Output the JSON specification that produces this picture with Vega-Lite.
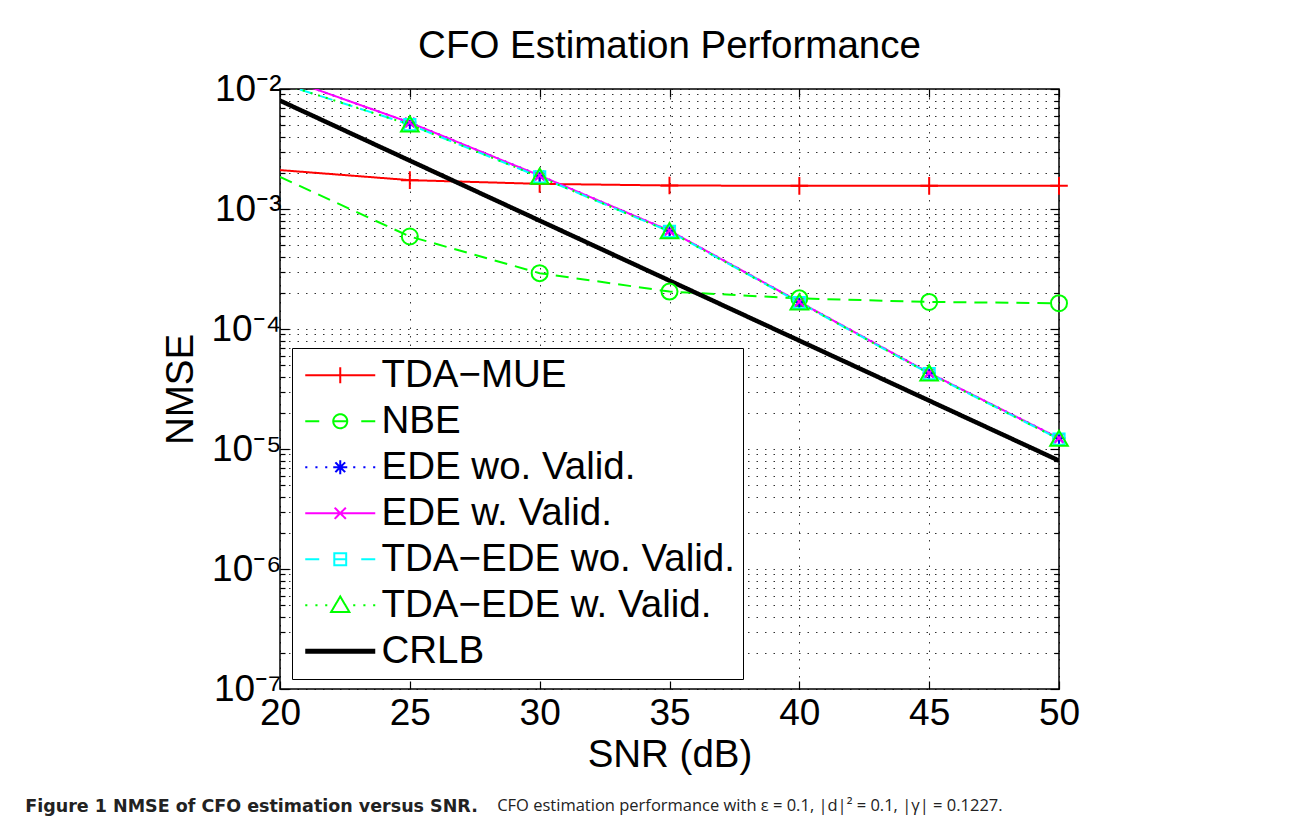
{
  "$schema": "https://vega.github.io/schema/vega-lite/v6.json",
  "background": "white",
  "padding": {"left": 25, "top": 25, "right": 0, "bottom": 0},
  "config": {
    "font": "Liberation Sans",
    "view": {"stroke": "black", "strokeWidth": 1.5},
    "concat": {"spacing": 0},
    "axis": {"labelFont": "Liberation Sans", "titleFont": "Liberation Sans", "labelColor": "black", "titleColor": "black", "tickColor": "black", "domainColor": "black"}
  },
  "title": {
    "text": "Figure 1 NMSE of CFO estimation versus SNR.",
    "orient": "bottom", "anchor": "start", "font": "DejaVu Sans", "fontSize": 17.5, "fontWeight": "bold", "color": "#222",
    "dx": -136, "offset": -17
  },
  "vconcat": [
    {
      "title": {
        "text": "CFO estimation performance with ε = 0.1, |d|² = 0.1, |γ| = 0.1227.",
        "orient": "bottom", "anchor": "start", "font": "Open Sans", "fontSize": 16.5, "fontWeight": "normal", "color": "#222",
        "dx": 336, "offset": 24
      },
      "vconcat": [
        {
          "width": 779,
          "height": 600,
          "title": {"text": "CFO Estimation Performance", "font": "Liberation Sans", "fontSize": 38.5, "fontWeight": "normal", "color": "black", "anchor": "middle", "frame": "group", "offset": 4},
          "data": {"values": [
            {"s": "TDA−MUE", "snr": 20, "nmse": 2.11e-3},
            {"s": "TDA−MUE", "snr": 25, "nmse": 1.74e-3},
            {"s": "TDA−MUE", "snr": 30, "nmse": 1.62e-3},
            {"s": "TDA−MUE", "snr": 35, "nmse": 1.57e-3},
            {"s": "TDA−MUE", "snr": 40, "nmse": 1.56e-3},
            {"s": "TDA−MUE", "snr": 45, "nmse": 1.56e-3},
            {"s": "TDA−MUE", "snr": 50, "nmse": 1.56e-3},
            {"s": "NBE", "snr": 20, "nmse": 1.85e-3},
            {"s": "NBE", "snr": 25, "nmse": 5.9e-4},
            {"s": "NBE", "snr": 30, "nmse": 2.92e-4},
            {"s": "NBE", "snr": 35, "nmse": 2.05e-4},
            {"s": "NBE", "snr": 40, "nmse": 1.8e-4},
            {"s": "NBE", "snr": 45, "nmse": 1.68e-4},
            {"s": "NBE", "snr": 50, "nmse": 1.64e-4},
            {"s": "EDE wo. Valid.", "snr": 20, "nmse": 1.27e-2},
            {"s": "EDE wo. Valid.", "snr": 25, "nmse": 5.25e-3},
            {"s": "EDE wo. Valid.", "snr": 30, "nmse": 1.9e-3},
            {"s": "EDE wo. Valid.", "snr": 35, "nmse": 6.6e-4},
            {"s": "EDE wo. Valid.", "snr": 40, "nmse": 1.68e-4},
            {"s": "EDE wo. Valid.", "snr": 45, "nmse": 4.3e-5},
            {"s": "EDE wo. Valid.", "snr": 50, "nmse": 1.23e-5},
            {"s": "EDE w. Valid.", "snr": 20, "nmse": 1.27e-2},
            {"s": "EDE w. Valid.", "snr": 25, "nmse": 5.25e-3},
            {"s": "EDE w. Valid.", "snr": 30, "nmse": 1.9e-3},
            {"s": "EDE w. Valid.", "snr": 35, "nmse": 6.6e-4},
            {"s": "EDE w. Valid.", "snr": 40, "nmse": 1.68e-4},
            {"s": "EDE w. Valid.", "snr": 45, "nmse": 4.3e-5},
            {"s": "EDE w. Valid.", "snr": 50, "nmse": 1.23e-5},
            {"s": "TDA−EDE wo. Valid.", "snr": 20, "nmse": 1.12e-2},
            {"s": "TDA−EDE wo. Valid.", "snr": 25, "nmse": 5.05e-3},
            {"s": "TDA−EDE wo. Valid.", "snr": 30, "nmse": 1.85e-3},
            {"s": "TDA−EDE wo. Valid.", "snr": 35, "nmse": 6.5e-4},
            {"s": "TDA−EDE wo. Valid.", "snr": 40, "nmse": 1.66e-4},
            {"s": "TDA−EDE wo. Valid.", "snr": 45, "nmse": 4.25e-5},
            {"s": "TDA−EDE wo. Valid.", "snr": 50, "nmse": 1.21e-5},
            {"s": "TDA−EDE w. Valid.", "snr": 20, "nmse": 1.12e-2},
            {"s": "TDA−EDE w. Valid.", "snr": 25, "nmse": 5.05e-3},
            {"s": "TDA−EDE w. Valid.", "snr": 30, "nmse": 1.85e-3},
            {"s": "TDA−EDE w. Valid.", "snr": 35, "nmse": 6.5e-4},
            {"s": "TDA−EDE w. Valid.", "snr": 40, "nmse": 1.66e-4},
            {"s": "TDA−EDE w. Valid.", "snr": 45, "nmse": 4.25e-5},
            {"s": "TDA−EDE w. Valid.", "snr": 50, "nmse": 1.21e-5},
            {"s": "CRLB", "snr": 20, "nmse": 8.0e-3},
            {"s": "CRLB", "snr": 25, "nmse": 2.53e-3},
            {"s": "CRLB", "snr": 30, "nmse": 8.0e-4},
            {"s": "CRLB", "snr": 35, "nmse": 2.53e-4},
            {"s": "CRLB", "snr": 40, "nmse": 8.0e-5},
            {"s": "CRLB", "snr": 45, "nmse": 2.53e-5},
            {"s": "CRLB", "snr": 50, "nmse": 8.0e-6}
          ]},
          "resolve": {"axis": {"x": "independent", "y": "independent"}},
          "layer": [
            {
              "mark": {"type": "line", "clip": true, "strokeCap": "butt"},
              "encoding": {
                "x": {
                  "field": "snr", "type": "quantitative",
                  "scale": {"domain": [20, 50], "nice": false, "zero": false},
                  "axis": {
                    "orient": "bottom", "values": [20, 25, 30, 35, 40, 45, 50],
                    "grid": true, "gridDash": [1.5, 7], "gridColor": "#000", "gridOpacity": 0.8, "gridWidth": 1,
                    "tickSize": -8, "tickWidth": 1.2, "domain": false,
                    "labelFontSize": 37, "labelPadding": 14, "labelFlush": false, "labelOverlap": false,
                    "title": "SNR (dB)", "titleFontSize": 38.5, "titleFontWeight": "normal", "titlePadding": 5
                  }
                },
                "y": {
                  "field": "nmse", "type": "quantitative",
                  "scale": {"type": "log", "domain": [1e-7, 1e-2], "nice": false},
                  "axis": {
                    "orient": "left",
                    "values": [1e-7, 2e-7, 3e-7, 4e-7, 5e-7, 6e-7, 7e-7, 8e-7, 9e-7, 1e-6, 2e-6, 3e-6, 4e-6, 5e-6, 6e-6, 7e-6, 8e-6, 9e-6, 1e-5, 2e-5, 3e-5, 4e-5, 5e-5, 6e-5, 7e-5, 8e-5, 9e-5, 1e-4, 2e-4, 3e-4, 4e-4, 5e-4, 6e-4, 7e-4, 8e-4, 9e-4, 1e-3, 2e-3, 3e-3, 4e-3, 5e-3, 6e-3, 7e-3, 8e-3, 9e-3, 1e-2],
                    "labelExpr": "abs(log(datum.value)/LN10 - round(log(datum.value)/LN10)) < 0.001 ? '10' + ['⁻⁷','⁻⁶','⁻⁵','⁻⁴','⁻³','⁻²'][round(log(datum.value)/LN10) + 7] : ''",
                    "grid": true, "gridDash": [1.5, 7], "gridColor": "#000", "gridOpacity": 0.8, "gridWidth": 1,
                    "tickSize": {"condition": {"test": "abs(log(datum.value)/LN10 - round(log(datum.value)/LN10)) < 0.001", "value": -9}, "value": -5},
                    "tickWidth": 1.2, "domain": false,
                    "labelFontSize": 37, "labelPadding": 8, "labelOverlap": false, "labelFlush": false,
                    "title": "NMSE", "titleFontSize": 38.5, "titleFontWeight": "normal", "titlePadding": 10
                  }
                },
                "color": {
                  "field": "s", "type": "nominal",
                  "scale": {"domain": ["TDA−MUE", "NBE", "EDE wo. Valid.", "EDE w. Valid.", "TDA−EDE wo. Valid.", "TDA−EDE w. Valid.", "CRLB"], "range": ["#ff0000", "#00ff00", "#0000ff", "#ff00ff", "#00ffff", "#00ff00", "#000000"]},
                  "legend": {
                    "orient": "none", "legendX": 12, "legendY": 259, "title": null,
                    "labelFont": "Liberation Sans", "labelFontSize": 38.5, "labelColor": "black", "labelLimit": 0, "labelOffset": 43,
                    "symbolSize": 4900, "symbolStrokeWidth": 2, "symbolType": "stroke",
                    "rowPadding": 7, "padding": 8,
                    "strokeColor": "black", "fillColor": "white", "cornerRadius": 0,
                    "encode": {
                      "symbols": {
                        "update": {
                          "shape": {"signal": "['M-0.4,0H1.6M0.6,-0.23V0.23', 'M-0.4,0H0M1.2,0H1.6M0.4,0A0.2,0.2 0 1,1 0.8,0A0.2,0.2 0 1,1 0.4,0M0.4,0H0.8', 'M-0.4,0h0.06M-0.11,0h0.06M0.17,0h0.06M0.97,0h0.06M1.26,0h0.06M1.54,0h0.06M0.4,0H0.8M0.6,-0.2V0.2M0.46,-0.14L0.74,0.14M0.46,0.14L0.74,-0.14', 'M-0.4,0H1.6M0.44,-0.16L0.76,0.16M0.44,0.16L0.76,-0.16', 'M-0.4,0H0M1.2,0H1.6M0.43,-0.17H0.77V0.17H0.43ZM0.43,0H0.77', 'M-0.4,0h0.06M-0.11,0h0.06M0.17,0h0.06M0.97,0h0.06M1.26,0h0.06M1.54,0h0.06M0.6,-0.25L0.86,0.19H0.34Z', 'M-0.4,0H1.6'][datum.index]"},
                          "strokeWidth": {"signal": "datum.index == 6 ? 5 : 2"},
                          "stroke": {"scale": "color", "field": "value"},
                          "strokeDash": {"value": [1, 0]},
                          "fill": {"value": "transparent"},
                          "opacity": {"value": 1}
                        }
                      }
                    }
                  }
                },
                "strokeDash": {
                  "condition": [
                    {"test": "datum.s == 'NBE' || datum.s == 'TDA−EDE wo. Valid.'", "value": [13, 8]},
                    {"test": "datum.s == 'EDE wo. Valid.' || datum.s == 'TDA−EDE w. Valid.'", "value": [2, 6]}
                  ],
                  "value": [1, 0]
                },
                "strokeWidth": {"condition": {"test": "datum.s == 'CRLB'", "value": 4.5}, "value": 2}
              }
            },
            {
              "transform": [{"filter": "datum.snr >= 25 && datum.s != 'CRLB'"}],
              "mark": {"type": "point", "filled": false, "strokeWidth": 2, "size": 256, "opacity": 1},
              "encoding": {
                "x": {
                  "field": "snr", "type": "quantitative",
                  "axis": {"orient": "top", "values": [20, 25, 30, 35, 40, 45, 50], "labels": false, "grid": false, "domain": false, "tickSize": -8, "tickWidth": 1.2, "title": null}
                },
                "y": {
                  "field": "nmse", "type": "quantitative",
                  "axis": {
                    "orient": "right", "labels": false, "grid": false, "domain": false, "title": null, "tickWidth": 1.2,
                    "values": [1e-7, 2e-7, 3e-7, 4e-7, 5e-7, 6e-7, 7e-7, 8e-7, 9e-7, 1e-6, 2e-6, 3e-6, 4e-6, 5e-6, 6e-6, 7e-6, 8e-6, 9e-6, 1e-5, 2e-5, 3e-5, 4e-5, 5e-5, 6e-5, 7e-5, 8e-5, 9e-5, 1e-4, 2e-4, 3e-4, 4e-4, 5e-4, 6e-4, 7e-4, 8e-4, 9e-4, 1e-3, 2e-3, 3e-3, 4e-3, 5e-3, 6e-3, 7e-3, 8e-3, 9e-3, 1e-2],
                    "tickSize": {"condition": {"test": "abs(log(datum.value)/LN10 - round(log(datum.value)/LN10)) < 0.001", "value": -9}, "value": -5}
                  }
                },
                "color": {"field": "s", "type": "nominal"},
                "shape": {
                  "condition": [
                    {"test": "datum.s == 'TDA−MUE'", "value": "M-1.1,0H1.1M0,-1.1V1.1"},
                    {"test": "datum.s == 'NBE'", "value": "M-1,0A1,1 0 1,1 1,0A1,1 0 1,1 -1,0"},
                    {"test": "datum.s == 'EDE wo. Valid.'", "value": "M-0.8,0H0.8M0,-0.8V0.8M-0.56,-0.56L0.56,0.56M-0.56,0.56L0.56,-0.56"},
                    {"test": "datum.s == 'EDE w. Valid.'", "value": "M-0.6,-0.6L0.6,0.6M-0.6,0.6L0.6,-0.6"},
                    {"test": "datum.s == 'TDA−EDE wo. Valid.'", "value": "M-0.7,-0.7H0.7V0.7H-0.7Z"}
                  ],
                  "value": "M0,-1.05L1.1,0.85H-1.1Z"
                }
              }
            }
          ]
        }
      ]
    }
  ]
}
